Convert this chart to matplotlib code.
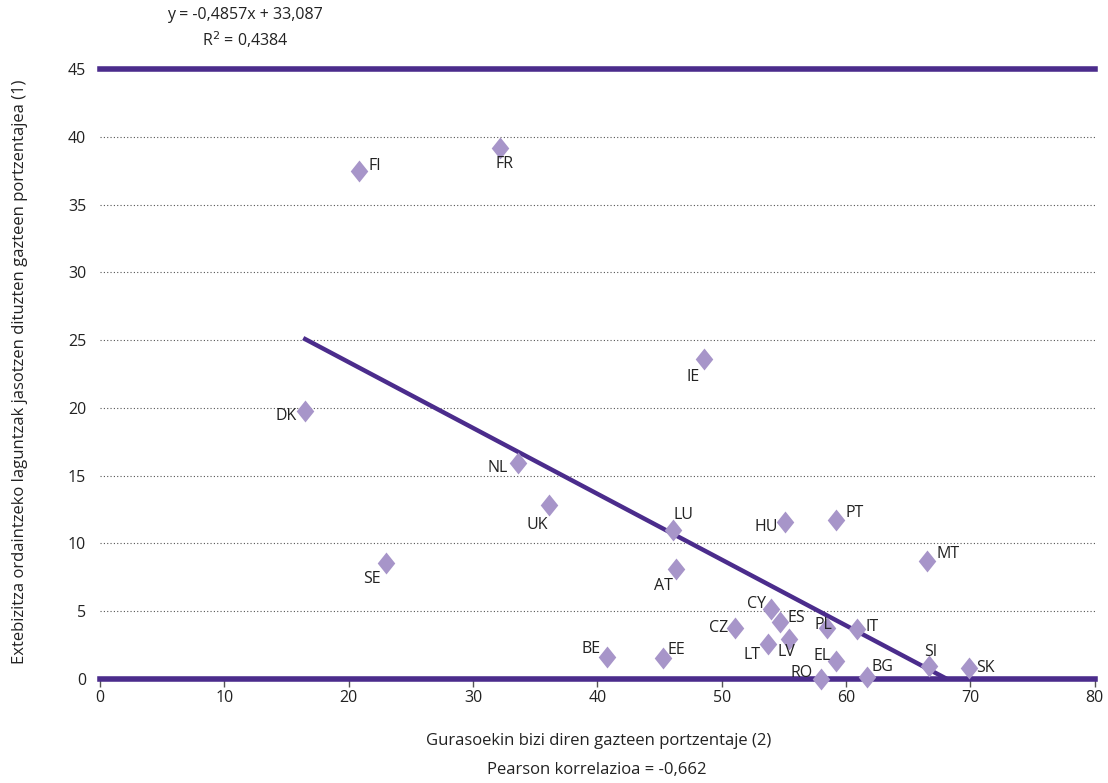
import numpy as np
import matplotlib.pyplot as plt

plt.rcParams['font.family'] = ['Open Sans', 'DejaVu Sans']

# data
countries = ['FI', 'FR', 'DK', 'IE', 'NL', 'UK', 'SE', 'LU', 'AT', 'HU', 'PT', 'MT',
             'CY', 'ES', 'CZ', 'LT', 'LV', 'PL', 'IT', 'EL', 'RO', 'BG', 'SI', 'SK',
             'BE', 'EE']
x_vals = [20.8, 32.2, 16.5, 48.6, 33.6, 36.1, 23.0, 46.1, 46.3, 55.1, 59.2, 66.5,
          54.0, 54.7, 51.1, 53.7, 55.4, 58.5, 60.9, 59.2, 58.0, 61.7, 66.7, 69.9,
          40.8, 45.3]
y_vals = [37.5, 39.2, 19.8, 23.6, 15.9, 12.8, 8.55, 11.0, 8.1, 11.6, 11.7, 8.7,
          5.2, 4.2, 3.8, 2.6, 2.95, 3.8, 3.7, 1.3, 0.0, 0.15, 0.95, 0.8,
          1.6, 1.55]
# label offsets in points (dx, dy, ha, va)
offsets = {
    'FI': (7, 3, 'left', 'center'), 'FR': (3, -6, 'center', 'top'),
    'DK': (-6, -4, 'right', 'center'), 'IE': (-3, -7, 'right', 'top'),
    'NL': (-7, -3, 'right', 'center'), 'UK': (-1, -8, 'right', 'top'),
    'SE': (-4, -6, 'right', 'top'), 'LU': (0, 5, 'left', 'bottom'),
    'AT': (-2, -6, 'right', 'top'), 'HU': (-5, -4, 'right', 'center'),
    'PT': (7, 5, 'left', 'center'), 'MT': (7, 5, 'left', 'center'),
    'CY': (-4, 3, 'right', 'center'), 'ES': (5, 3, 'left', 'center'),
    'CZ': (-5, 0, 'right', 'center'), 'LT': (-5, -8, 'right', 'center'),
    'LV': (-8, -9, 'left', 'center'), 'PL': (-9, 2, 'left', 'center'),
    'IT': (6, 1, 'left', 'center'), 'EL': (-16, 4, 'left', 'center'),
    'RO': (-6, 4, 'right', 'center'), 'BG': (3, 7, 'left', 'center'),
    'SI': (-4, 10, 'left', 'center'), 'SK': (5, 0, 'left', 'center'),
    'BE': (-5, 6, 'right', 'center'), 'EE': (3, 6, 'left', 'center'),
}
slope, intercept = -0.4857, 33.087

purple = '#4B2C8C'
marker_col = '#A795C9'
diamond = [(0, 1), (0.8, 0), (0, -1), (-0.8, 0), (0, 1)]

fig = plt.figure(figsize=(11.08, 7.83), dpi=100)
ax = fig.add_axes([0.0903, 0.1328, 0.8977, 0.7791])

for yy in range(5, 45, 5):
    ax.axhline(yy, color='#555555', lw=0.8, ls=(0, (1, 2)), zorder=0)

ax.scatter(x_vals, y_vals, marker=diamond, s=250, color=marker_col, zorder=3,
           clip_on=False, linewidths=0)

for c, xv, yv in zip(countries, x_vals, y_vals):
    dx, dy, ha, va = offsets[c]
    ax.annotate(c, (xv, yv), xytext=(dx, dy), textcoords='offset points',
                ha=ha, va=va, fontsize=11.5, color='#222222', zorder=4)

xt = np.array([min(x_vals), max(x_vals)])
ax.plot(xt, slope * xt + intercept, color=purple, lw=3.2, zorder=2)

ax.set_xlim(0, 80)
ax.set_ylim(0, 45)
ax.set_xticks(range(0, 81, 10))
ax.set_yticks(range(0, 46, 5))
for s in ['left', 'right']:
    ax.spines[s].set_visible(False)
for s in ['top', 'bottom']:
    ax.spines[s].set_color(purple)
    ax.spines[s].set_linewidth(4)
ax.tick_params(axis='y', length=0, labelsize=11.5, labelcolor='#222222', pad=10)
ax.tick_params(axis='x', length=6, width=1, color='#555555', labelsize=11.5,
               labelcolor='#222222', direction='out', pad=2)

fig.text(0.018, 0.525, 'Extebizitza ordaintzeko laguntzak jasotzen dituzten gazteen portzentajea (1)',
         rotation=90, ha='center', va='center', fontsize=12, color='#222222')
fig.text(0.54, 0.054, 'Gurasoekin bizi diren gazteen portzentaje (2)',
         ha='center', va='center', fontsize=12, color='#222222')
fig.text(0.539, 0.016, 'Pearson korrelazioa = -0,662',
         ha='center', va='center', fontsize=12, color='#222222')
fig.text(0.221, 0.981, 'y = -0,4857x + 33,087', ha='center', va='center',
         fontsize=11.5, color='#222222')
fig.text(0.221, 0.949, 'R$^2$ = 0,4384', ha='center', va='center',
         fontsize=11.5, color='#222222')

fig.savefig('out.png', dpi=100)
